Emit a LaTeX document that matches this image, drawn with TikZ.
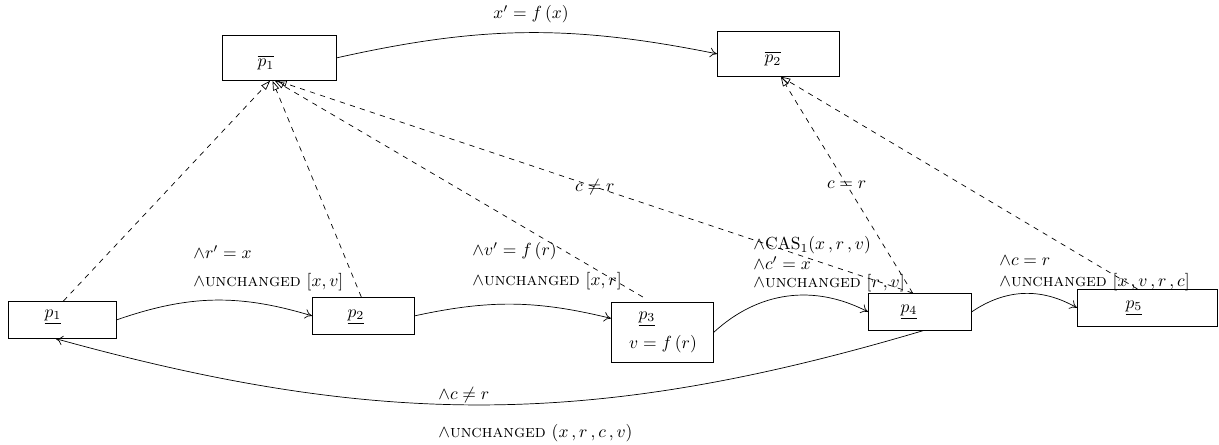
\documentclass[tikz,border=0pt]{standalone}
\usetikzlibrary{arrows.meta,calc}
\newcommand{\unch}{\textsc{unchanged}}
\begin{document}
\begin{tikzpicture}[x=0.5714pt,y=-0.5714pt,
  bx/.style n args={2}{draw, minimum width=#1*0.5714pt, minimum height=#2*0.5714pt,
    inner sep=0pt, anchor=north west},
  txt/.style={inner sep=0pt},
  lbl/.style={inner sep=0pt, anchor=west},
  arr/.style={-{To[length=4pt,width=5.5pt]}},
  abs/.style={dashed, -{Triangle[open,length=5.5pt,width=3.6pt]}}]
\useasboundingbox (0,0) rectangle (1219,445);

% abstract states
\node[bx={114}{45}] (pb1) at (222,35) {};
\node[bx={122}{45}] (pb2) at (717,31) {};
\node[txt] at (266,63) {$\overline{p_1}$};
\node[txt] at (773,59) {$\overline{p_2}$};

% concrete states
\node[bx={108}{37}] (p1) at (8,301) {};
\node[bx={102}{37}] (p2) at (312,297) {};
\node[bx={102}{60}] (p3) at (611,302) {};
\node[bx={103}{37}] (p4) at (868,293) {};
\node[bx={140}{37}] (p5) at (1077,289) {};
\node[txt] at (53,317) {$\underline{p_1}$};
\node[txt] at (356,317) {$\underline{p_2}$};
\node[txt] at (647,319) {$\underline{p_3}$};
\node[txt] at (663,344) {$v=f\,(r)$};
\node[txt] at (909,312) {$\underline{p_4}$};
\node[txt] at (1134,308) {$\underline{p_5}$};

% attachment points
\coordinate (p3w) at ($(p3.north west)!0.27!(p3.south west)$);
\coordinate (p4b) at ($(p4.south west)!0.53!(p4.south east)$);
\coordinate (p1b) at ($(p1.south west)!0.44!(p1.south east)$);
\coordinate (p1t) at ($(p1.north west)!0.51!(p1.north east)$);
\coordinate (p2t) at ($(p2.north west)!0.48!(p2.north east)$);
\coordinate (p3t) at ($($(p3.north west)!0.31!(p3.north east)$)+(0,-5)$);
\coordinate (p4t) at ($(p4.north west)!0.43!(p4.north east)$);
\coordinate (p5t) at ($(p5.north west)!0.43!(p5.north east)$);
\coordinate (q1) at ($(pb1.south west)!0.42!(pb1.south east)$);
\coordinate (q2) at ($(pb1.south west)!0.44!(pb1.south east)$);
\coordinate (q3) at ($(pb1.south west)!0.46!(pb1.south east)$);
\coordinate (q4) at ($(pb1.south west)!0.48!(pb1.south east)$);
\coordinate (q5) at ($(pb2.south west)!0.52!(pb2.south east)$);

% abstract transition
\draw[arr] (pb1.east) to[bend left=12] (pb2.west);
\node[txt] at (531,14) {$x'=f\,(x)$};

% concrete transitions
\draw[arr] (p1.east) to[bend left=18] (p2.west);
\draw[arr] (p2.east) to[bend left=13] (p3w);
\draw[arr] (p3.east) to[bend left=35] (p4.west);
\draw[arr] (p4.east) to[bend left=32] (p5.west);
\draw[arr] (p4b) to[bend left=16] (p1b);

% refinement mapping
\draw[abs] (p1t) -- (q1);
\draw[abs] (p2t) -- (q2);
\draw[abs] (p3t) -- (q3);
\draw[abs] (p4t) -- node[txt]{$c\neq r$} (q4);
\draw[abs] (p4t) -- node[txt]{$c=r$} (q5);
\draw[abs] (p5t) -- (q5);

% transition guards
\node[lbl] at (193,252) {$\wedge r'=x$};
\node[lbl] at (193,282) {$\wedge$\unch{} $[x,v]$};
\node[lbl] at (472,251) {$\wedge v'=f\,(r)$};
\node[lbl] at (472,281) {$\wedge$\unch{} $[x,r]$};
\node[lbl] at (753,245) {$\wedge\mathrm{CAS}_1(x\,,r\,,v)$};
\node[lbl] at (753,263) {$\wedge c'=x$};
\node[lbl] at (753,283) {$\wedge$\unch{} $[r\,,v]$};
\node[lbl] at (999,261) {$\wedge c=r$};
\node[lbl] at (999,282) {$\wedge$\unch{} $[x\,,v\,,r\,,c]$};
\node[lbl] at (438,395) {$\wedge c\neq r$};
\node[lbl] at (438,433) {$\wedge$\unch{} $(x\,,r\,,c\,,v)$};
\end{tikzpicture}
\end{document}
